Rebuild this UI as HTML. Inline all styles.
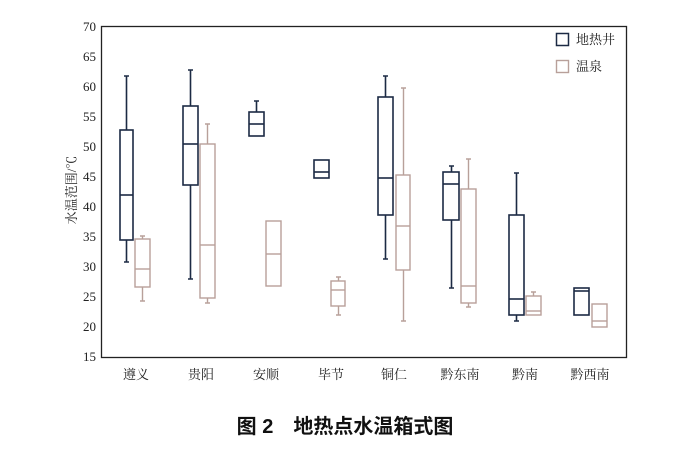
<!DOCTYPE html>
<html><head><meta charset="utf-8"><style>
body{margin:0;background:#fff;}
svg text{font-family:"Liberation Serif","Noto Serif CJK SC",serif;}
</style></head><body>
<svg width="676" height="454" viewBox="0 0 676 454" xmlns="http://www.w3.org/2000/svg">
<rect x="0" y="0" width="676" height="454" fill="#fff"/>
<rect x="101.5" y="26.5" width="525" height="331" fill="none" stroke="#222" stroke-width="1.3"/>
<g font-size="13" fill="#222" text-anchor="end">
<text x="96" y="31">70</text><text x="96" y="61">65</text><text x="96" y="91">60</text><text x="96" y="121">55</text><text x="96" y="151">50</text><text x="96" y="181">45</text><text x="96" y="211">40</text><text x="96" y="241">35</text><text x="96" y="271">30</text><text x="96" y="301">25</text><text x="96" y="331">20</text><text x="96" y="361">15</text>
</g>
<text transform="translate(76,190) rotate(-90)" font-size="13" fill="#222" text-anchor="middle">水温范围/℃</text>
<g font-size="13" fill="#222" text-anchor="middle">
<text x="136" y="379">遵义</text><text x="201" y="379">贵阳</text><text x="266" y="379">安顺</text><text x="331" y="379">毕节</text><text x="394" y="379">铜仁</text><text x="460" y="379">黔东南</text><text x="525" y="379">黔南</text><text x="590" y="379">黔西南</text>
</g>
<g fill="none" stroke="#1c2a44" stroke-width="1.6">
<!-- x1,x2, top,q3,med,q1,low -->
<path d="M126.5 76V130M126.5 240V262M124 76h5M124 262h5"/><rect x="120" y="130" width="13" height="110"/><path d="M120 195h13"/>
<path d="M190.5 70V106M190.5 185V279M188 70h5M188 279h5"/><rect x="183" y="106" width="15" height="79"/><path d="M183 144h15"/>
<path d="M256.5 101V112M254 101h5"/><rect x="249" y="112" width="15" height="24"/><path d="M249 124h15"/>
<rect x="314" y="160" width="15" height="18"/><path d="M314 172h15"/>
<path d="M385.5 76V97M385.5 215V259M383 76h5M383 259h5"/><rect x="378" y="97" width="15" height="118"/><path d="M378 178h15"/>
<path d="M451.5 166V172M451.5 220V288M449 166h5M449 288h5"/><rect x="443" y="172" width="16" height="48"/><path d="M443 184h16"/>
<path d="M516.5 173V215M516.5 315V321M514 173h5M514 321h5"/><rect x="509" y="215" width="15" height="100"/><path d="M509 299h15"/>
<rect x="574" y="288" width="15" height="27"/><path d="M574 291h15"/>
</g>
<g fill="none" stroke="#b8a09a" stroke-width="1.4">
<path d="M142.5 236V239M142.5 287V301M140 236h5M140 301h5"/><rect x="135" y="239" width="15" height="48"/><path d="M135 269h15"/>
<path d="M207.5 124V144M207.5 298V303M205 124h5M205 303h5"/><rect x="200" y="144" width="15" height="154"/><path d="M200 245h15"/>
<rect x="266" y="221" width="15" height="65"/><path d="M266 254h15"/>
<path d="M338.5 277V281M338.5 306V315M336 277h5M336 315h5"/><rect x="331" y="281" width="14" height="25"/><path d="M331 290h14"/>
<path d="M403.5 88V175M403.5 270V321M401 88h5M401 321h5"/><rect x="396" y="175" width="14" height="95"/><path d="M396 226h14"/>
<path d="M468.5 159V189M468.5 303V307M466 159h5M466 307h5"/><rect x="461" y="189" width="15" height="114"/><path d="M461 286h15"/>
<path d="M533.5 292V296M531 292h5"/><rect x="526" y="296" width="15" height="19"/><path d="M526 311h15"/>
<rect x="592" y="304" width="15" height="23"/><path d="M592 321h15"/>
</g>
<rect x="556.5" y="33.5" width="12" height="12" fill="none" stroke="#1c2a44" stroke-width="1.5"/>
<text x="576" y="44" font-size="13" fill="#222">地热井</text>
<rect x="556.5" y="60.5" width="12" height="12" fill="none" stroke="#b8a09a" stroke-width="1.4"/>
<text x="576" y="71" font-size="13" fill="#222">温泉</text>
<text x="345" y="433" font-size="20" font-weight="bold" fill="#111" text-anchor="middle" style="font-family:'Liberation Sans','Noto Sans CJK SC',sans-serif">图 2　地热点水温箱式图</text>
</svg>
</body></html>
